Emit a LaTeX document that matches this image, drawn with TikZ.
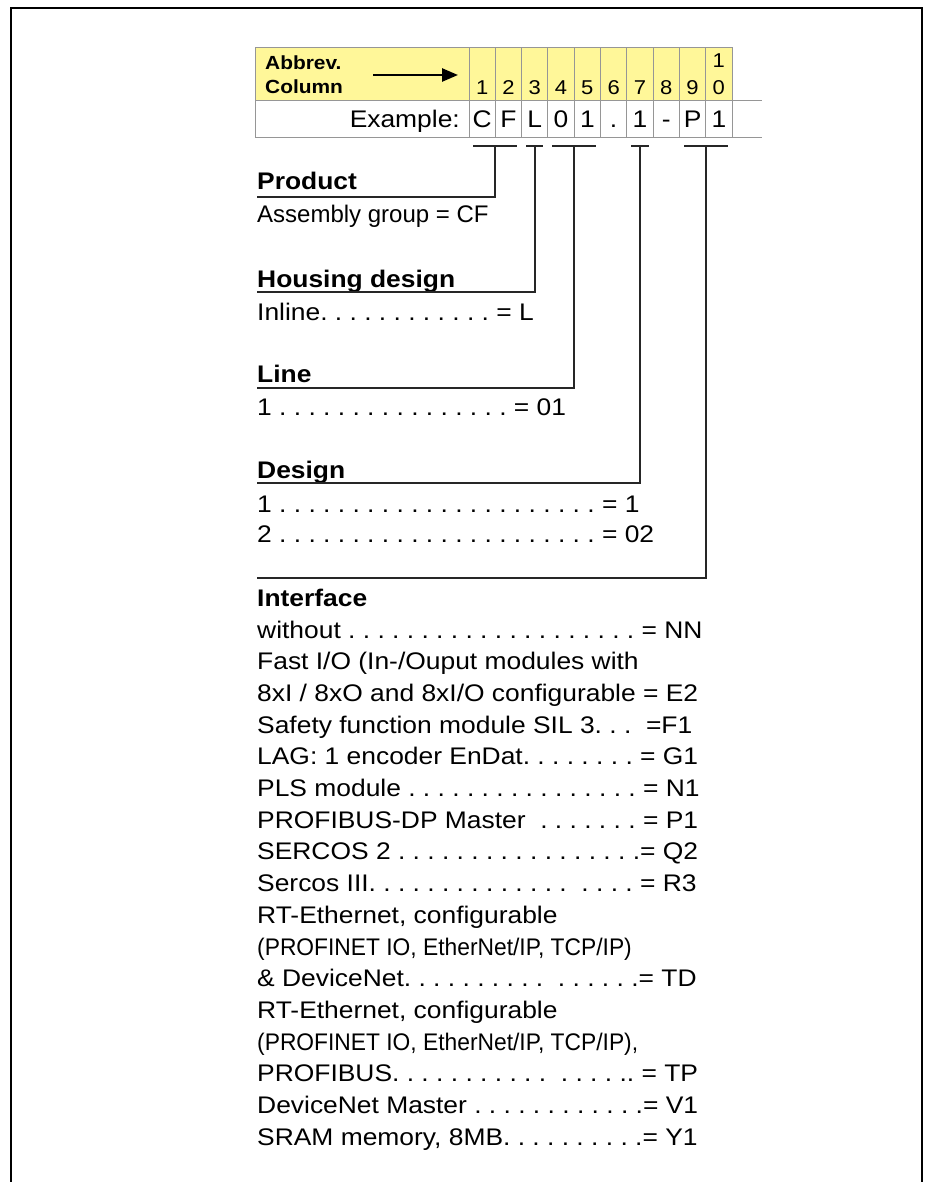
\documentclass[tikz,border=0pt]{standalone}
\usepackage{fontspec}
\setmainfont{Liberation Sans}[FakeStretch=1.1]
\newfontfamily\narrowfont{Liberation Sans}[FakeStretch=0.95]
\newfontfamily\plainfont{Liberation Sans}
\usetikzlibrary{arrows.meta}
\definecolor{hdryellow}{RGB}{255,247,153}
\definecolor{gridgray}{RGB}{150,150,150}

\begin{document}
\begin{tikzpicture}[x=1pt,y=-1pt,
    txt/.style={anchor=base west, inner sep=0pt, font=\fontsize{24}{28}\selectfont\frenchspacing},
    head/.style={anchor=base west, inner sep=0pt, font=\fontsize{24}{28}\selectfont\bfseries},
    digit/.style={anchor=base, inner sep=0pt, font=\fontsize{20}{22}\selectfont},
    letter/.style={anchor=base, inner sep=0pt, font=\fontsize{24}{26}\selectfont},
    grid/.style={draw=gridgray, line width=1pt},
    bracket/.style={line width=2pt, draw=black!85}]

    \useasboundingbox (0,0) rectangle (930,1182);

    % outer frame (open at the bottom)
    \draw[line width=2.5pt] (11,1182) -- (11,8) -- (922,8) -- (922,1182);

    % ================= HEADER TABLE =================
    \fill[hdryellow] (255,48) rectangle (732,101);
    \draw[grid] (255,48) rectangle (732,101);
    \draw[grid] (255,101) -- (762,101);
    \draw[grid] (255,138) -- (762,138);
    \draw[grid] (255,101) -- (255,138);
    \foreach \i in {0,...,10}
        \draw[grid] (469+26.3*\i,48) -- (469+26.3*\i,138);

    \node[anchor=base west, inner sep=0pt, font=\fontsize{19}{21}\selectfont\bfseries] (abbrev) at (265,70) {Abbrev.};
    \node[anchor=base west, inner sep=0pt, font=\fontsize{19}{21}\selectfont\bfseries] (column) at (265,94) {Column};
    \coordinate (arrS) at (373,75);
    \coordinate (arrE) at (458,75);
    \draw[line width=2.5pt, -{Triangle[length=16pt,width=13pt]}] (arrS) -- (arrE);

    % column numbers
    \foreach \d [count=\i from 0] in {1,...,9}
        \node[digit] (col\d) at (482.15+26.3*\i,95) {\d};
    \node[digit] (col10a) at (718.85,68) {1};
    \node[digit] (col10b) at (718.85,95) {0};

    % example row
    \node[anchor=base east, inner sep=0pt, font=\fontsize{24}{26}\selectfont] (example) at (460,128) {Example:};
    \foreach \c [count=\i from 0] in {C,F,L,0,1,.,1,-,P,1}
        \node[letter] (ex\i) at (482.15+26.3*\i,128) {\c};

    % brackets under the example
    \draw[bracket] (473,146) -- (517,146);
    \draw[bracket] (526,146) -- (543,146);
    \draw[bracket] (552,146) -- (596,146);
    \draw[bracket] (631,146) -- (649,146);
    \draw[bracket] (684,146) -- (728,146);
    \coordinate (tProd) at (495,146);
    \coordinate (tHous) at (534.7,146);
    \coordinate (tLine) at (574.2,146);
    \coordinate (tDes)  at (640,146);
    \coordinate (tIntf) at (705.7,146);

    % ================= PRODUCT =================
    \node[head] (product) at (257,190) {Product};
    \coordinate (uProd) at (257,197);
    \draw[bracket] (tProd) |- (uProd);
    \node[txt, font=\plainfont\fontsize{24}{28}\selectfont] (prodval) at (257,223) {Assembly group = CF};

    % ================= HOUSING DESIGN =================
    \node[head] (housing) at (257,287) {Housing design};
    \coordinate (uHous) at (257,292);
    \draw[bracket] (tHous) |- (uHous);
    \node[txt] (housval) at (257,320) {Inline. . . . . . . . . . . . = L};

    % ================= LINE =================
    \node[head] (line) at (257,382) {Line};
    \coordinate (uLine) at (257,388);
    \draw[bracket] (tLine) |- (uLine);
    \node[txt] (lineval) at (257,415) {1 . . . . . . . . . . . . . . . . = 01};

    % ================= DESIGN =================
    \node[head] (design) at (257,478) {Design};
    \coordinate (uDes) at (257,483);
    \draw[bracket] (tDes) |- (uDes);
    \node[txt] (desA) at (257,512) {1 . . . . . . . . . . . . . . . . . . . . . . = 1};
    \node[txt] (desB) at (257,542) {2 . . . . . . . . . . . . . . . . . . . . . . = 02};

    % ================= INTERFACE =================
    \coordinate (uIntf) at (257,578);
    \draw[bracket] (tIntf) |- (uIntf);
    \node[head] (interface) at (257,606) {Interface};
    \node[txt] (if0)  at (257,638)   {without . . . . . . . . . . . . . . . . . . . . = NN};
    \node[txt] (if1)  at (257,669.7) {Fast I/O (In-/Ouput modules with};
    \node[txt] (if2)  at (257,701.4) {8xI / 8xO and 8xI/O configurable = E2};
    \node[txt] (if3)  at (257,733.1) {Safety function module SIL 3. . . \ =F1};
    \node[txt] (if4)  at (257,764.8) {LAG: 1 encoder EnDat. . . . . . . . = G1};
    \node[txt] (if5)  at (257,796.5) {PLS module . . . . . . . . . . . . . . . . = N1};
    \node[txt] (if6)  at (257,828.2) {PROFIBUS-DP Master~ . . . . . . . = P1};
    \node[txt] (if7)  at (257,859.9) {SERCOS 2 . . . . . . . . . . . . . . . . .= Q2};
    \node[txt] (if8)  at (257,891.6) {Sercos III. . . . . . . . . . . . . .~ . . . . = R3};
    \node[txt] (if9)  at (257,923.3) {RT-Ethernet, configurable};
    \node[txt, font=\narrowfont\fontsize{24}{28}\selectfont] (if10) at (257,955) {(PROFINET IO, EtherNet/IP, TCP/IP)};
    \node[txt] (if11) at (257,986.7) {\& DeviceNet. . . . . . . . . .~ . . . . . .= TD};
    \node[txt] (if12) at (257,1018.4) {RT-Ethernet, configurable};
    \node[txt, font=\narrowfont\fontsize{24}{28}\selectfont] (if13) at (257,1050.1) {(PROFINET IO, EtherNet/IP, TCP/IP),};
    \node[txt] (if14) at (257,1081.8) {PROFIBUS. . . . . . . . . . .~ . . . . .. = TP};
    \node[txt] (if15) at (257,1113.5) {DeviceNet Master . . . . . . . . . . . .= V1};
    \node[txt] (if16) at (257,1145.2) {SRAM memory, 8MB. . . . . . . . . .= Y1};

\end{tikzpicture}
\end{document}
